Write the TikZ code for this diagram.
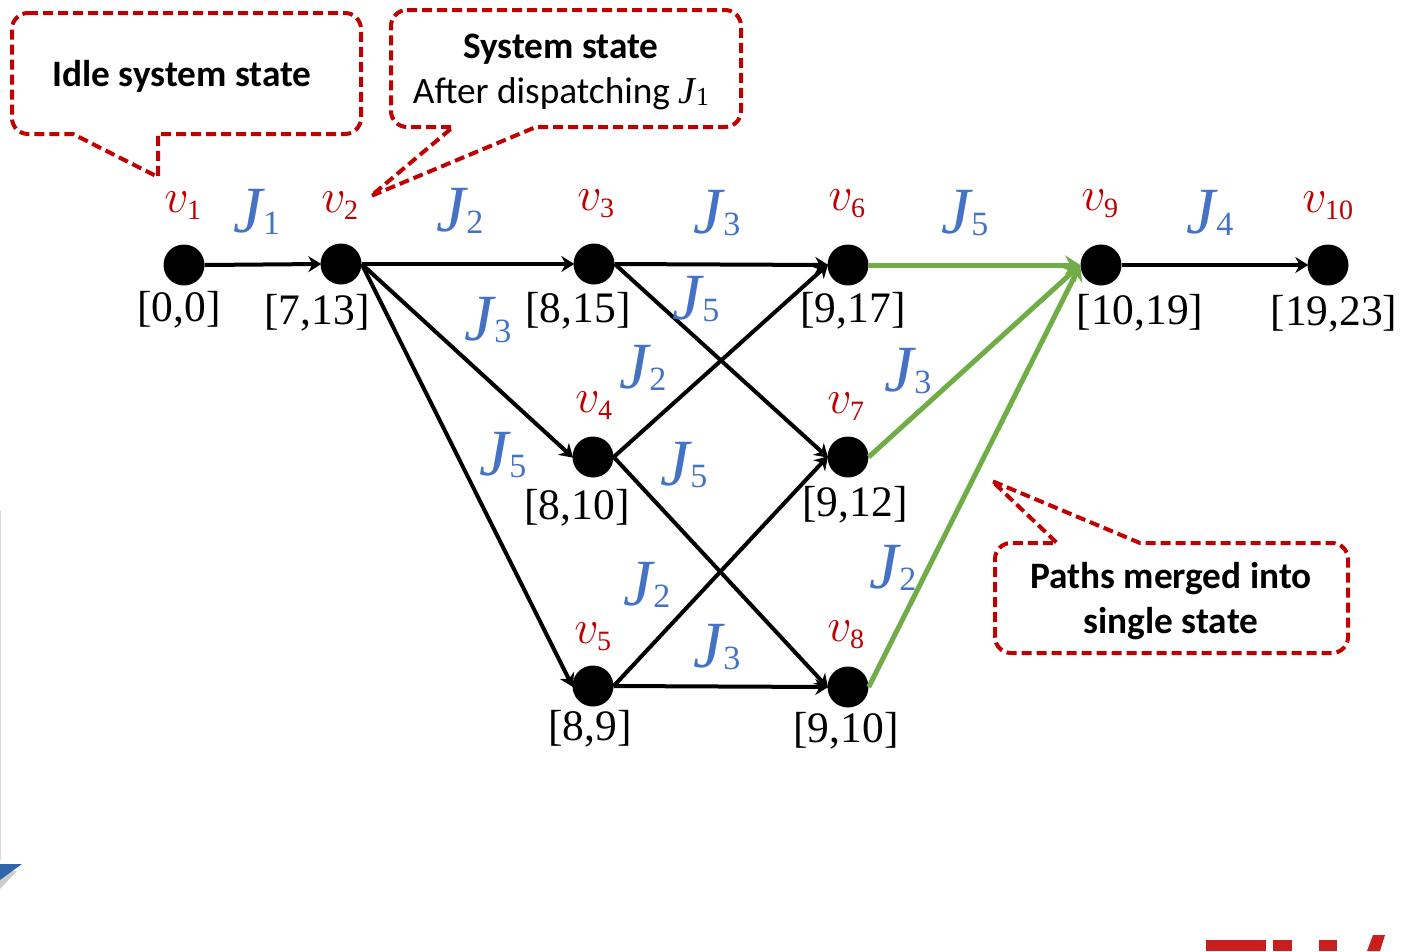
\documentclass[tikz,border=0pt]{standalone}
\usepackage{fix-cm}
\usepackage{amsmath}
\usepackage{fontspec}
\usepackage{xcolor}
\setmainfont{Carlito}
\newfontfamily\dagBoundFont{Liberation Serif}
\usetikzlibrary{arrows.meta}
\definecolor{dagRed}{HTML}{C00000}
\definecolor{dagBlue}{HTML}{4472C4}
\definecolor{dagGreen}{HTML}{70AD47}
\definecolor{dagCorner}{HTML}{2E66AC}
\definecolor{dagLogo}{HTML}{C81E1E}
\DeclareMathSizes{48}{48}{28}{20}
\newcommand{\dagSize}[1]{\fontsize{#1}{#1}\selectfont}
\newcommand{\dagSubJob}[3]{{\dagBoundFont\dagSize{#1}\itshape J}\kern0.02em{\dagBoundFont\dagSize{#2}\raisebox{-0.08em}{#3}}}
\newcommand{\dagVertex}[1]{{\dagSize{48}\color{dagRed}$v_{\text{\dagBoundFont #1}}$}}
\newcommand{\dagJob}[1]{{\color{dagBlue}\dagSubJob{66}{34}{#1}}}
\newcommand{\dagBound}[1]{{\dagSize{43.5}\dagBoundFont[#1]}}
\tikzset{
  dagstate/.style={circle, fill=black, inner sep=0pt, minimum size=41pt},
  dagedge/.style={line width=4pt, -{Stealth[length=13pt,width=16pt]}, shorten >=-1pt},
  dagmerged/.style={line width=5pt, dagGreen, -{Stealth[length=15pt,width=19pt]}},
  dagcallout/.style={line width=4pt, dagRed, dash pattern=on 10pt off 5pt, rounded corners=16pt},
  dagtext/.style={anchor=base, inner sep=0pt},
}

\begin{document}
\begin{tikzpicture}[x=1pt,y=-1pt]
\useasboundingbox (0,0) rectangle (1401,951);
\fill[gray!40] (0,872) -- (17,871) -- (0,889) -- cycle;
\fill[dagCorner] (0,864) -- (22,864) -- (0,880) -- cycle;
\draw[gray!30, line width=1pt] (0,510) -- (0,860);
\fill[dagLogo] (1206,940) rectangle (1266,951);
\fill[dagLogo] (1273,940) rectangle (1292,951);
\fill[dagLogo] (1319,940) rectangle (1337,951);
\fill[dagLogo] (1367,951) -- (1373,935) -- (1385,935) -- (1380,951) -- cycle;
\node[dagstate] (v1) at (184,265) {};
\node[dagstate] (v2) at (341,264) {};
\node[dagstate] (v3) at (594,264) {};
\node[dagstate] (v4) at (593,457) {};
\node[dagstate] (v5) at (593,686) {};
\node[dagstate] (v6) at (848,265) {};
\node[dagstate] (v7) at (848,457) {};
\node[dagstate] (v8) at (848,687) {};
\node[dagstate] (v9) at (1101,265) {};
\node[dagstate] (v10) at (1328,265) {};
\draw[dagedge] (v1.east) -- (v2.west);
\draw[dagedge] (v2.east) -- (v3.west);
\draw[dagedge] (v2.east) -- (v4.west);
\draw[dagedge] (v2.east) -- (v5.west);
\draw[dagedge] (v3.east) -- (v6.west);
\draw[dagedge] (v3.east) -- (v7.west);
\draw[dagedge] (v4.east) -- (v6.west);
\draw[dagedge] (v4.east) -- (v8.west);
\draw[dagedge] (v5.east) -- (v7.west);
\draw[dagedge] (v5.east) -- (v8.west);
\draw[dagedge] (v9.east) -- (v10.west);
\draw[dagmerged] (v6.east) -- (v9.west);
\draw[dagmerged] (v7.east) -- (v9.west);
\draw[dagmerged] (v8.east) -- (v9.west);
\node[dagtext] (nameA) at (183,212) {\dagVertex{1}};
\node[dagtext] (nameB) at (340,212) {\dagVertex{2}};
\node[dagtext] (nameC) at (596,210) {\dagVertex{3}};
\node[dagtext] (nameD) at (594,412) {\dagVertex{4}};
\node[dagtext] (nameE) at (593,643) {\dagVertex{5}};
\node[dagtext] (nameF) at (847,210) {\dagVertex{6}};
\node[dagtext] (nameG) at (846,413) {\dagVertex{7}};
\node[dagtext] (nameH) at (846,641) {\dagVertex{8}};
\node[dagtext] (nameI) at (1100,210) {\dagVertex{9}};
\node[dagtext] (nameJ) at (1328,212) {\dagVertex{10}};
\node[dagtext] (jobA) at (257,232) {\dagJob{1}};
\node[dagtext] (jobB) at (460,231) {\dagJob{2}};
\node[dagtext] (jobC) at (717,233) {\dagJob{3}};
\node[dagtext] (jobD) at (965,233) {\dagJob{5}};
\node[dagtext] (jobE) at (1210,233) {\dagJob{4}};
\node[dagtext] (jobF) at (696,319) {\dagJob{5}};
\node[dagtext] (jobG) at (488,340) {\dagJob{3}};
\node[dagtext] (jobH) at (643,388) {\dagJob{2}};
\node[dagtext] (jobI) at (503,475) {\dagJob{5}};
\node[dagtext] (jobJ) at (684,485) {\dagJob{5}};
\node[dagtext] (jobK) at (908,391) {\dagJob{3}};
\node[dagtext] (jobL) at (647,605) {\dagJob{2}};
\node[dagtext] (jobM) at (717,667) {\dagJob{3}};
\node[dagtext] (jobN) at (893,588) {\dagJob{2}};
\node[dagtext] (boundA) at (179,321) {\dagBound{0,0}};
\node[dagtext] (boundB) at (317,324) {\dagBound{7,13}};
\node[dagtext] (boundC) at (578,322) {\dagBound{8,15}};
\node[dagtext] (boundD) at (853,322) {\dagBound{9,17}};
\node[dagtext] (boundE) at (577,519) {\dagBound{8,10}};
\node[dagtext] (boundF) at (855,516) {\dagBound{9,12}};
\node[dagtext] (boundG) at (590,740) {\dagBound{8,9}};
\node[dagtext] (boundH) at (846,742) {\dagBound{9,10}};
\node[dagtext] (boundI) at (1140,324) {\dagBound{10,19}};
\node[dagtext] (boundJ) at (1334,325) {\dagBound{19,23}};
\draw[dagcallout] (12,13) -- (361,13) -- (361,134) [sharp corners] -- (158,134) -- (158,177) -- (73,134) [rounded corners=16pt] -- (12,134) -- cycle;
\draw[dagcallout] (391,10) -- (741,10) -- (741,127) [sharp corners] -- (536,127) -- (371,196) -- (453,127) [rounded corners=16pt] -- (391,127) -- cycle;
\draw[dagcallout] (995,653) -- (995,543) [sharp corners] -- (1057,543) -- (992,481) -- (1140,543) [rounded corners=16pt] -- (1348,543) -- (1348,653) -- cycle;
\node[dagtext] (idleText) at (182,86) {\dagSize{37.3}\bfseries Idle system state};
\node[dagtext] (stateText) at (561,58) {\dagSize{37.3}\bfseries System state};
\node[dagtext] (afterText) at (561,103) {\dagSize{37.3}After dispatching \dagSubJob{38}{26}{1}};
\node[dagtext] (pathsText) at (1171,588) {\dagSize{37.3}\bfseries Paths merged into};
\node[dagtext] (singleText) at (1171,633) {\dagSize{37.3}\bfseries single state};
\end{tikzpicture}
\end{document}
